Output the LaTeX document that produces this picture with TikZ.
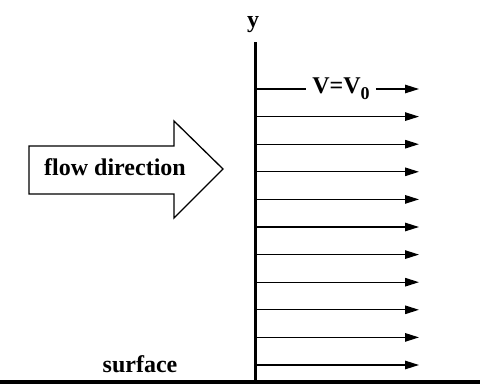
\documentclass[tikz,border=0pt]{standalone}
\usepackage{fontspec}
\setmainfont{Liberation Serif}
\usetikzlibrary{arrows.meta,positioning,calc}
\tikzset{
  bl/label/.style={font=\bfseries\fontsize{24}{28}\selectfont, inner sep=0pt, anchor=base},
  bl/axis/.style={line width=2.5pt},
  bl/wall/.style={line width=4pt},
  bl/vel/.style={line width=1.3pt, -{Triangle[length=14pt,width=8.5pt]}},
  bl/flowarrow/.style={draw, line width=1.3pt, fill=white, line join=miter}
}
\newcommand{\blsub}[1]{\raisebox{-6pt}{\fontsize{18}{20}\selectfont #1}}
\begin{document}
\begin{tikzpicture}[x=1pt,y=-1pt]
  \useasboundingbox (0,0) rectangle (480,385);

  % surface and y axis
  \coordinate (wallL) at (0,382);
  \coordinate (wallR) at (480,382);
  \coordinate (axisB) at (255.5,382);
  \coordinate (axisT) at (255.5,42);
  \draw[bl/wall] (wallL) -- (wallR);
  \draw[bl/axis] (axisB) -- (axisT);
  \node[bl/label] (ylab) at (253,28) {y};
  \node[bl/label] (surf) at (140,373) {surface};

  % velocity profile
  \foreach \i in {0,...,10} {
    \coordinate (s\i) at (256,{89+27.6*\i});
    \coordinate (e\i) at (419,{89+27.6*\i});
  }
  \node[bl/label, anchor=center, fill=white, inner xsep=6pt] (vzero) at (341,89) {V=V\blsub{0}};
  \draw[line width=1.3pt] (s0) -- (vzero.west);
  \draw[bl/vel] (vzero.east) -- (e0);
  \foreach \i in {1,...,10} {
    \draw[bl/vel] (s\i) -- (e\i);
  }

  % flow direction arrow
  \draw[bl/flowarrow] (29,146) -- (174,146) -- (174,121) -- (223,169)
    -- (174,218) -- (174,194) -- (29,194) -- cycle;
  \node[bl/label] (flow) at (115,176) {flow direction};
\end{tikzpicture}
\end{document}
